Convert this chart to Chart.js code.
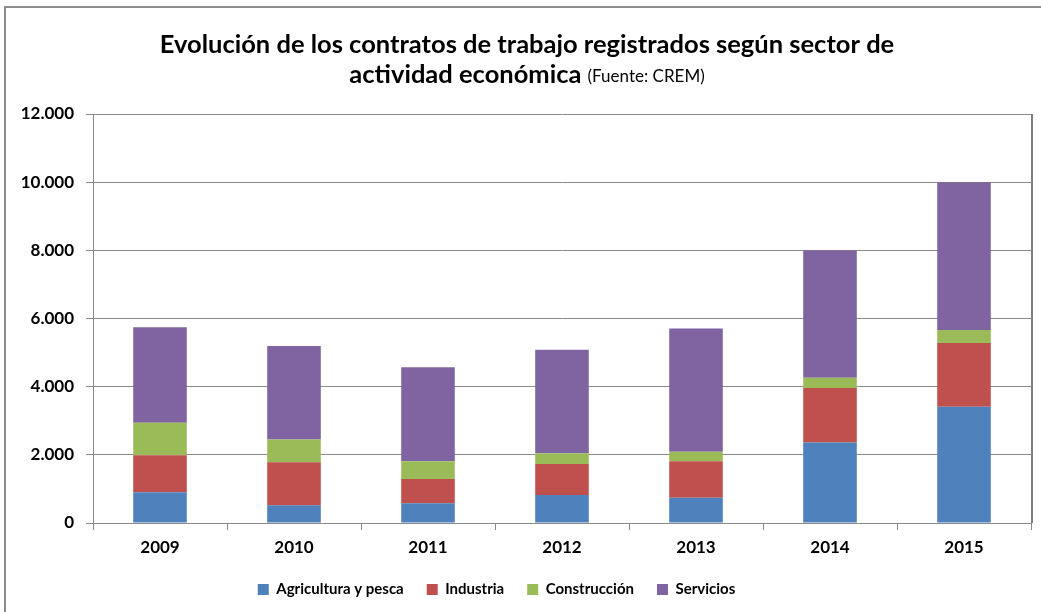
<!DOCTYPE html>
<html>
<head>
<meta charset="utf-8">
<script src="https://cdn.jsdelivr.net/npm/chart.js@4"></script>
<style>
  html, body { margin: 0; padding: 0; background: #fff; }
  #wrap { width: 1041px; height: 612px; position: relative; }
</style>
</head>
<body>
<div id="wrap"><canvas id="myChart" width="1041" height="612"></canvas></div>
<script>
// datos
const years = ['2009', '2010', '2011', '2012', '2013', '2014', '2015'];
const agricultura = [900, 520, 580, 820, 740, 2360, 3410];
const industria = [1090, 1260, 710, 910, 1070, 1600, 1870];
const construccion = [950, 670, 520, 320, 280, 300, 380];
const servicios = [2800, 2740, 2760, 3030, 3620, 3740, 4340];
const yTicks = [0, 2000, 4000, 6000, 8000, 10000, 12000];

const fontName = 'Lato, "DejaVu Sans", sans-serif';
const gris = '#8a8a8a';

// miles con punto: 12000 -> 12.000
function miles(v) {
  return String(v).replace(/\B(?=(\d{3})+(?!\d))/g, '.');
}

// titulo en dos lineas + marco exterior
const titlePlugin = {
  id: 'titulo',
  afterDraw(chart) {
    const c = chart.ctx;
    const mid = 527;
    c.save();
    c.fillStyle = '#000';
    c.textBaseline = 'middle';
    c.textAlign = 'center';
    c.font = 'bold 25.5px ' + fontName;
    c.fillText('Evolución de los contratos de trabajo registrados según sector de', mid, 45);
    // segunda linea con dos estilos
    const a = 'actividad económica ';
    const b = '(Fuente: CREM)';
    c.font = 'bold 25.5px ' + fontName;
    const wa = c.measureText(a).width;
    c.font = '17px ' + fontName;
    const wb = c.measureText(b).width;
    let x = mid - (wa + wb) / 2;
    c.textAlign = 'left';
    c.font = 'bold 25.5px ' + fontName;
    c.fillText(a, x, 75);
    c.font = '17px ' + fontName;
    c.fillText(b, x + wa, 77);
    // marco
    c.strokeStyle = '#8c8c8c';
    c.lineWidth = 2;
    c.beginPath();
    c.moveTo(5, 620);
    c.lineTo(5, 7);
    c.lineTo(1050, 7);
    c.stroke();
    c.restore();
  }
};

// leyenda: alto fijo y algo desplazada a la izquierda como en el original
const legendFix = {
  id: 'legendFix',
  beforeLayout(chart) {
    const lg = chart.legend;
    if (lg && !lg._patched) {
      const orig = lg.fit;
      lg.fit = function () {
        orig.call(this);
        this.height = 53;
      };
      lg._patched = true;
    }
  },
  afterLayout(chart) {
    const lg = chart.legend;
    lg.left -= 24;
    lg.right -= 24;
  }
};

const ctx = document.getElementById('myChart').getContext('2d');
const chart = new Chart(ctx, {
  type: 'bar',
  data: {
    labels: years,
    datasets: [
      { label: 'Agricultura y pesca', data: agricultura, backgroundColor: '#4F81BD' },
      { label: 'Industria', data: industria, backgroundColor: '#C0504D' },
      { label: 'Construcción', data: construccion, backgroundColor: '#9BBB59' },
      { label: 'Servicios', data: servicios, backgroundColor: '#8064A2' }
    ]
  },
  options: {
    responsive: false,
    animation: false,
    layout: { padding: { top: 114, right: 10, left: 10, bottom: 0 } },
    datasets: { bar: { barPercentage: 0.4, categoryPercentage: 1 } },
    scales: {
      x: {
        stacked: true,
        grid: { display: true, drawOnChartArea: false, color: gris, tickLength: 7, offset: true },
        border: { color: gris },
        ticks: { color: '#000', font: { family: fontName, size: 17, weight: 'bold' }, padding: 7 },
        afterFit(axis) { axis.height = 36; }
      },
      y: {
        stacked: true,
        min: 0,
        max: 12000,
        afterBuildTicks(axis) {
          axis.ticks = yTicks.map(v => ({ value: v }));
        },
        afterFit(axis) { axis.width = 83; },
        grid: { color: gris, tickLength: 7 },
        border: { color: gris },
        ticks: {
          color: '#000',
          font: { family: fontName, size: 17, weight: 'bold' },
          padding: 12,
          callback: v => miles(v)
        }
      }
    },
    plugins: {
      legend: {
        position: 'bottom',
        labels: {
          color: '#000',
          boxWidth: 11,
          boxHeight: 11,
          padding: 23,
          font: { family: fontName, size: 15, weight: 'bold' }
        }
      },
      tooltip: { enabled: false }
    }
  },
  plugins: [titlePlugin, legendFix, {
    id: 'bordeArea',
    afterDatasetsDraw(chart) {
      const a = chart.chartArea;
      const c = chart.ctx;
      c.save();
      c.strokeStyle = '#7f7f7f';
      c.lineWidth = 2;
      c.beginPath();
      c.moveTo(a.right + 1, a.top);
      c.lineTo(a.right + 1, a.bottom);
      c.stroke();
      c.restore();
    }
  }]
});
</script>
</body>
</html>
